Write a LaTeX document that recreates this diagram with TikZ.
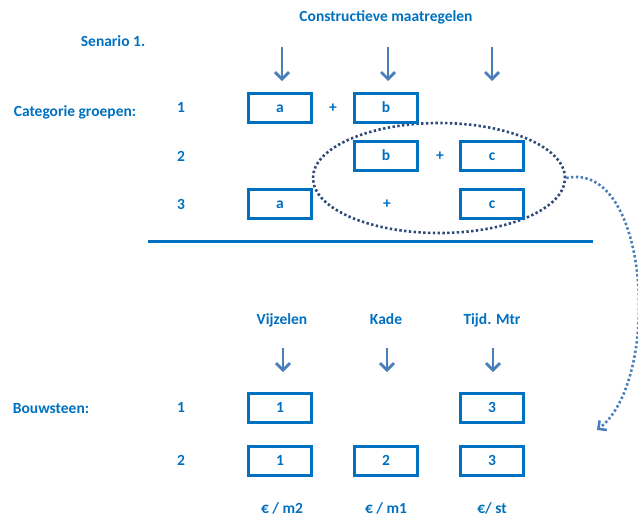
\documentclass[tikz,border=0pt]{standalone}
\usepackage{fontspec}
\setmainfont{Carlito}
\usetikzlibrary{arrows.meta,shapes.geometric}
\definecolor{tekst}{HTML}{0070C0}
\definecolor{pijl}{HTML}{4A7EBB}
\definecolor{stip}{HTML}{2F4A78}
\tikzset{
	lbl/.style={text=tekst,font=\fontsize{15.5}{18}\selectfont\bfseries,inner sep=0pt,text height=12pt,text depth=3pt},
	vak/.style={lbl,draw=tekst,line width=3pt,minimum width=63pt,minimum height=29pt},
	pijlomlaag/.style={draw=pijl,line width=2.8pt,-{Straight Barb[length=7pt,width=14pt]}},
}
\begin{document}
\begin{tikzpicture}[x=1pt,y=-1pt]
	\useasboundingbox (0,0) rectangle (638,517);
	
	\node[draw=stip,ellipse,line width=2.6pt,dash pattern=on 2.4pt off 2.4pt,minimum width=252pt,minimum height=110pt,inner sep=0pt] (selectie) at (439,178) {};
	
	\node[lbl] (maatregel) at (386,17) {Constructieve maatregelen};
	\node[lbl] (senario) at (113,42) {Senario 1.};
	\node[lbl] (categorie) at (75,112) {Categorie groepen:};
	\foreach \n/\y in {1/108,2/157,3/205}
	{
		\node[lbl] (groep\n) at (181,\y) {\n};
	}
	\foreach \k/\x in {a/282,b/388,c/492}
	{
		\coordinate (boven\k) at (\x,47);
		\coordinate (onder\k) at (\x,81);
		\draw[pijlomlaag] (boven\k) -- (onder\k);
	}
	\node[vak] (a1) at (280,108) {a};
	\node[lbl] (plus1) at (333,108) {+};
	\node[vak] (b1) at (386,108) {b};
	\node[vak] (b2) at (386,156) {b};
	\node[lbl] (plus2) at (440,156) {+};
	\node[vak] (c2) at (492,156) {c};
	\node[vak] (a3) at (280,204) {a};
	\node[lbl] (plus3) at (387,204) {+};
	\node[vak] (c3) at (492,204) {c};
	
	\coordinate (lijnl) at (148,241);
	\coordinate (lijnr) at (593,241);
	\draw[tekst,line width=3pt] (lijnl) -- (lijnr);
	
	\coordinate (doel) at (597,430);
	\draw[pijl,line width=2.6pt,dash pattern=on 2.4pt off 2.4pt,-{Straight Barb[length=6pt,width=12pt]}] (selectie.east) .. controls (650,160) and (662,380) .. (doel);
	
	\node[lbl] (bouwsteen) at (51,409) {Bouwsteen:};
	\foreach \n/\y in {1/408,2/461}
	{
		\node[lbl] (steen\n) at (181,\y) {\n};
	}
	\foreach \k/\x/\t/\e in {v/282/Vijzelen/{€ / m2},k/386/Kade/{€ / m1},t/492/Tijd. Mtr/{€/ st}}
	{
		\node[lbl] (kop\k) at (\x,320) {\t};
		\coordinate (van\k) at (\x+1,348);
		\coordinate (naar\k) at (\x+1,372);
		\draw[pijlomlaag] (van\k) -- (naar\k);
		\node[lbl] (eenheid\k) at (\x,509) {\e};
	}
	\node[vak] (v1) at (280,408) {1};
	\node[vak] (t1) at (492,408) {3};
	\node[vak] (v2) at (280,461) {1};
	\node[vak] (k2) at (386,461) {2};
	\node[vak] (t2) at (492,461) {3};
\end{tikzpicture}
\end{document}
